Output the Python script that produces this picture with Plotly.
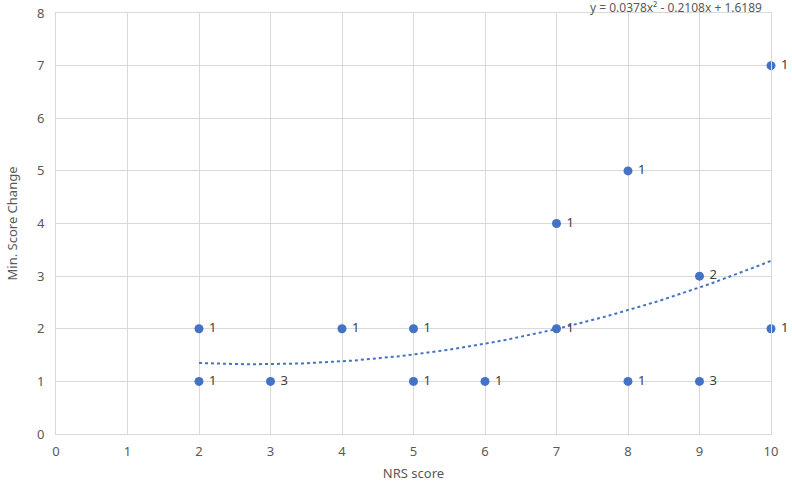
import numpy as np
import plotly.graph_objects as go

nrs = [2, 2, 3, 4, 5, 5, 6, 7, 7, 8, 8, 9, 9, 10, 10]
min_change = [2, 1, 1, 2, 2, 1, 1, 4, 2, 5, 1, 3, 1, 7, 2]
counts = [1, 1, 3, 1, 1, 1, 1, 1, 1, 1, 1, 2, 3, 1, 1]
coef = [0.0378, -0.2108, 1.6189]
eq_text = "y = 0.0378x² - 0.2108x + 1.6189"

xt = np.linspace(min(nrs), max(nrs), 100)
yt = np.polyval(coef, xt)

FONT = "Noto Sans"
GRAY = "#595959"
GRID = "#d9d9d9"
BLUE = "#4472C4"

fig = go.Figure()
fig.add_trace(go.Scatter(x=xt, y=yt, mode="lines",
                         line=dict(color=BLUE, width=2, dash="dot"),
                         hoverinfo="skip", showlegend=False))
fig.add_trace(go.Scatter(x=nrs, y=min_change, mode="markers+text",
                         marker=dict(color=BLUE, size=9),
                         text=[" " + str(c) for c in counts],
                         textposition="middle right",
                         textfont=dict(family=FONT, size=13, color="#404040"),
                         showlegend=False, cliponaxis=False))

fig.add_annotation(text=eq_text, xref="paper", yref="paper", x=0.867, y=1.012,
                   xanchor="center", yanchor="middle", showarrow=False,
                   font=dict(family=FONT, size=12, color=GRAY))

fig.update_layout(
    width=792, height=482,
    margin=dict(l=56, r=21, t=13, b=48),
    plot_bgcolor="white", paper_bgcolor="white",
    font=dict(family=FONT, size=12, color=GRAY),
    xaxis=dict(range=[0, 10], dtick=1, showgrid=True, gridcolor=GRID, gridwidth=1,
               zeroline=False, showline=True, linecolor=GRID, linewidth=1, mirror=True,
               ticks="", automargin=False, ticklabelstandoff=5,
               title=dict(text="NRS score", font=dict(family=FONT, size=13, color=GRAY), standoff=12),
               tickfont=dict(family=FONT, size=13, color=GRAY)),
    yaxis=dict(range=[0, 8], dtick=1, showgrid=True, gridcolor=GRID, gridwidth=1,
               zeroline=False, showline=True, linecolor=GRID, linewidth=1, mirror=True,
               ticks="", automargin=False, ticklabelstandoff=8,
               title=dict(text="Min. Score Change", font=dict(family=FONT, size=13, color=GRAY), standoff=16),
               tickfont=dict(family=FONT, size=13, color=GRAY)),
)

fig.write_html("out.html", post_script="document.body.style.margin='0';",
               config={"displayModeBar": False})
